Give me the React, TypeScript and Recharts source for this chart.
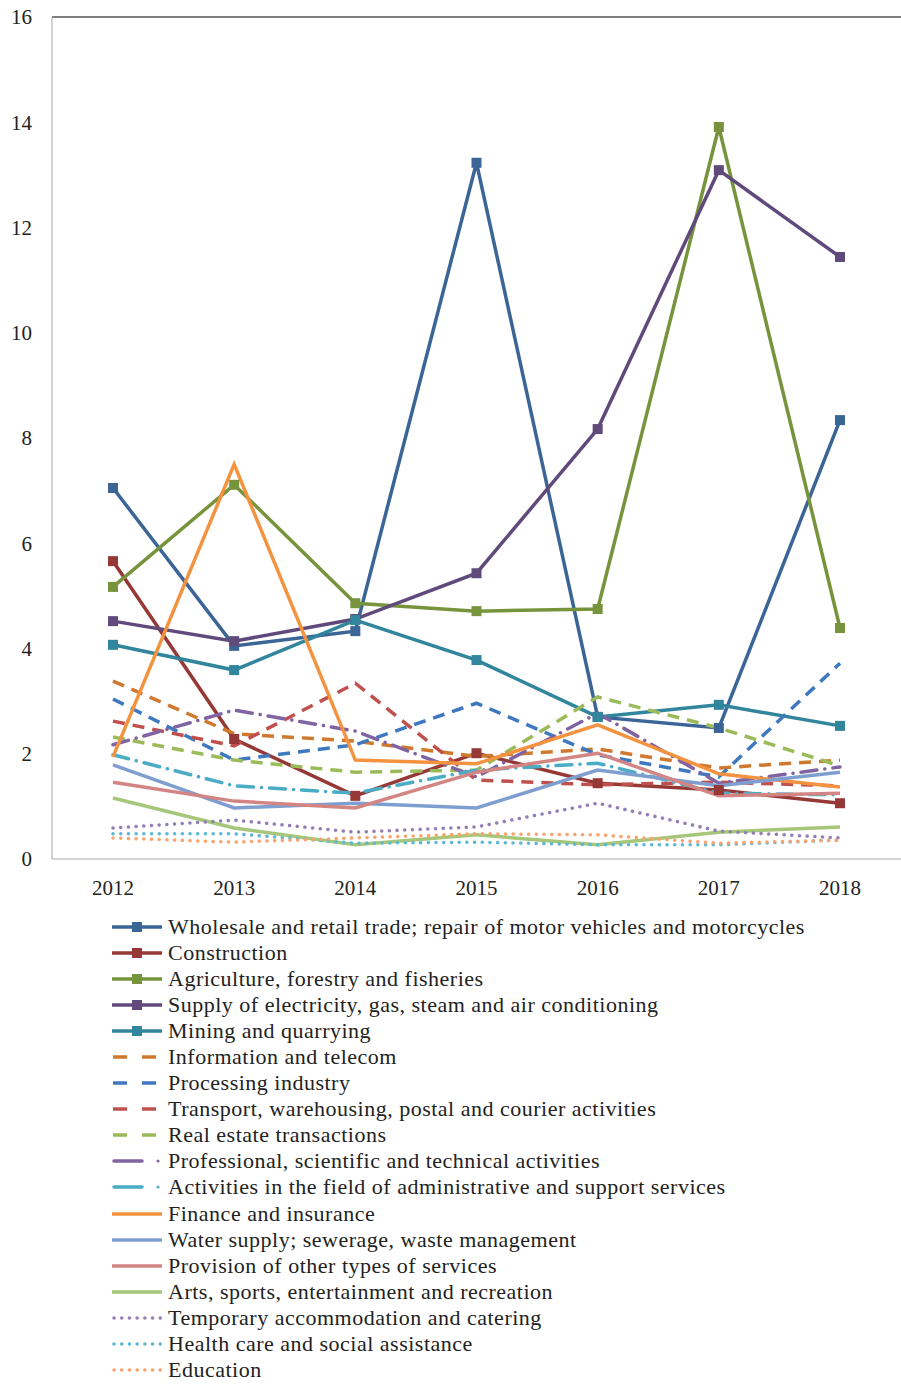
import React from "react";
import { LineChart, Line, XAxis, YAxis, ReferenceLine } from "recharts";

const YEARS = ["2012", "2013", "2014", "2015", "2016", "2017", "2018"];
const Y_TICKS = [0, 2, 4, 6, 8, 10, 12, 14, 16];

const wholesale = [7.05, 4.05, 4.33, 13.23, 2.7, 2.49, 8.34];
const construction = [5.66, 2.28, 1.2, 2.01, 1.44, 1.31, 1.06];
const agriculture = [5.17, 7.11, 4.86, 4.71, 4.75, 13.91, 4.39];
const electricity = [4.52, 4.14, 4.56, 5.43, 8.17, 13.09, 11.44];
const mining = [4.07, 3.59, 4.54, 3.78, 2.7, 2.93, 2.53];
const telecom = [3.38, 2.38, 2.24, 1.95, 2.09, 1.73, 1.88];
const processing = [3.04, 1.88, 2.17, 2.96, 1.98, 1.56, 3.72];
const transport = [2.62, 2.15, 3.34, 1.5, 1.41, 1.46, 1.39];
const realEstate = [2.32, 1.88, 1.65, 1.69, 3.08, 2.49, 1.77];
const professional = [2.17, 2.83, 2.43, 1.56, 2.77, 1.44, 1.75];
const admin = [1.98, 1.39, 1.25, 1.69, 1.82, 1.25, 1.22];
const finance = [1.94, 7.5, 1.88, 1.81, 2.55, 1.62, 1.37];
const water = [1.79, 0.97, 1.06, 0.97, 1.69, 1.39, 1.65];
const otherServices = [1.46, 1.1, 0.97, 1.65, 2.01, 1.2, 1.25];
const arts = [1.16, 0.59, 0.27, 0.46, 0.27, 0.51, 0.61];
const accommodation = [0.59, 0.74, 0.51, 0.61, 1.06, 0.53, 0.4];
const health = [0.48, 0.48, 0.3, 0.32, 0.27, 0.27, 0.36];
const education = [0.4, 0.32, 0.4, 0.48, 0.46, 0.3, 0.36];

type Style = "marker" | "solid" | "dash" | "dashdot" | "dot";

const SERIES: { key: string; name: string; values: number[]; color: string; style: Style }[] = [
  { key: "s1", name: "Wholesale and retail trade; repair of motor vehicles and motorcycles", values: wholesale, color: "#3B6497", style: "marker" },
  { key: "s2", name: "Construction", values: construction, color: "#953836", style: "marker" },
  { key: "s3", name: "Agriculture, forestry and fisheries", values: agriculture, color: "#77933C", style: "marker" },
  { key: "s4", name: "Supply of electricity, gas, steam and air conditioning", values: electricity, color: "#604A7B", style: "marker" },
  { key: "s5", name: "Mining and quarrying", values: mining, color: "#31859C", style: "marker" },
  { key: "s6", name: "Information and telecom", values: telecom, color: "#D0782E", style: "dash" },
  { key: "s7", name: "Processing industry", values: processing, color: "#3E78BF", style: "dash" },
  { key: "s8", name: "Transport, warehousing, postal and courier activities", values: transport, color: "#C0504D", style: "dash" },
  { key: "s9", name: "Real estate transactions", values: realEstate, color: "#9BBB59", style: "dash" },
  { key: "s10", name: "Professional, scientific and technical activities", values: professional, color: "#8064A2", style: "dashdot" },
  { key: "s11", name: "Activities in the field of administrative and support services", values: admin, color: "#4BACC6", style: "dashdot" },
  { key: "s12", name: "Finance and insurance", values: finance, color: "#F39340", style: "solid" },
  { key: "s13", name: "Water supply; sewerage, waste management", values: water, color: "#7F9ED0", style: "solid" },
  { key: "s14", name: "Provision of other types of services", values: otherServices, color: "#D38583", style: "solid" },
  { key: "s15", name: "Arts, sports, entertainment and recreation", values: arts, color: "#A6C77A", style: "solid" },
  { key: "s16", name: "Temporary accommodation and catering", values: accommodation, color: "#9180B5", style: "dot" },
  { key: "s17", name: "Health care and social assistance", values: health, color: "#5CB8D3", style: "dot" },
  { key: "s18", name: "Education", values: education, color: "#F9A26C", style: "dot" },
];

const data = YEARS.map((year, i) => {
  const row: Record<string, string | number> = { year };
  SERIES.forEach((s) => (row[s.key] = s.values[i]));
  return row;
});

const DASH: Record<Style, string | undefined> = {
  marker: undefined,
  solid: undefined,
  dash: "12 8",
  dashdot: "16 8 0.1 8",
  dot: "0.1 7.6",
};

const FONT = "'Liberation Serif', 'Times New Roman', serif";

// eslint-disable-next-line @typescript-eslint/no-explicit-any
const SquareDot = (color: string) => (props: any) => {
  const { cx, cy, index } = props;
  if (cx == null || cy == null) return <g key={index} />;
  return <rect key={index} x={cx - 5} y={cy - 5} width={10} height={10} fill={color} />;
};

function LegendIcon({ color, style }: { color: string; style: Style }) {
  if (style === "dash")
    return (
      <svg width={52} height={10}>
        <line x1={1} y1={5} x2={15} y2={5} stroke={color} strokeWidth={3.5} />
        <line x1={30} y1={5} x2={44} y2={5} stroke={color} strokeWidth={3.5} />
      </svg>
    );
  if (style === "dashdot")
    return (
      <svg width={52} height={10}>
        <line x1={2} y1={5} x2={30} y2={5} stroke={color} strokeWidth={3.5} strokeLinecap="round" />
        <circle cx={46} cy={5} r={1.6} fill={color} />
      </svg>
    );
  if (style === "dot")
    return (
      <svg width={52} height={10}>
        <line x1={2} y1={5} x2={50} y2={5} stroke={color} strokeWidth={3.5} strokeDasharray="0.1 7.6" strokeLinecap="round" />
      </svg>
    );
  return (
    <svg width={52} height={10}>
      <line x1={0} y1={5} x2={50} y2={5} stroke={color} strokeWidth={3.5} />
      {style === "marker" && <rect x={20} y={0} width={10} height={10} fill={color} />}
    </svg>
  );
}

export default function App() {
  return (
    <div style={{ position: "absolute", left: 0, top: 0, width: 901, height: 1384, background: "#fff" }}>
      <LineChart width={901} height={1384} data={data} margin={{ top: 17, right: 0, bottom: 495, left: 0 }}>
        <XAxis
          dataKey="year"
          height={30}
          padding={{ left: 61, right: 61 }}
          tickLine={false}
          tickSize={0}
          tickMargin={21}
          stroke="#A6A6A6"
          tick={{ fill: "#222", fontSize: 21, fontFamily: FONT }}
        />
        <YAxis
          width={52}
          domain={[0, 16]}
          ticks={Y_TICKS}
          tickLine={false}
          tickSize={0}
          tickMargin={20}
          stroke="#A6A6A6"
          tick={{ fill: "#222", fontSize: 21, fontFamily: FONT }}
        />
        <ReferenceLine y={16} stroke="#000" strokeWidth={1} />
        {SERIES.map((s) => (
          <Line
            key={s.key}
            dataKey={s.key}
            name={s.name}
            type="linear"
            stroke={s.color}
            strokeWidth={3.5}
            strokeDasharray={DASH[s.style]}
            strokeLinecap={s.style === "dot" || s.style === "dashdot" ? "round" : "butt"}
            dot={s.style === "marker" ? SquareDot(s.color) : false}
            activeDot={false}
            isAnimationActive={false}
          />
        ))}
      </LineChart>
      <div
        style={{
          position: "absolute",
          left: 112,
          top: 914,
          fontFamily: FONT,
          fontSize: 22,
          letterSpacing: 0.5,
          color: "#222",
        }}
      >
        {SERIES.map((s) => (
          <div key={s.key} style={{ display: "flex", alignItems: "center", height: 26.06, whiteSpace: "nowrap" }}>
            <LegendIcon color={s.color} style={s.style} />
            <span style={{ marginLeft: 4 }}>{s.name}</span>
          </div>
        ))}
      </div>
    </div>
  );
}
